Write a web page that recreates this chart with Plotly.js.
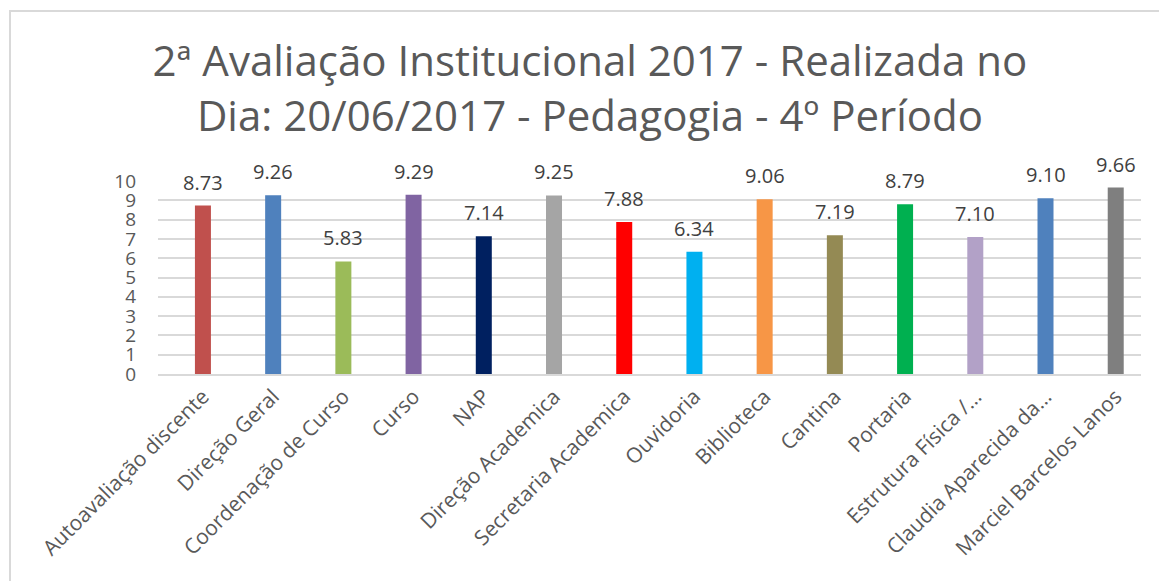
<!DOCTYPE html>
<html>
<head>
<meta charset="utf-8">
<script src="https://cdn.plot.ly/plotly-3.0.1.min.js"></script>
<style>
html,body{margin:0;padding:0;background:#fff;}
#wrap{position:relative;width:1159px;height:581px;overflow:hidden;}
#chart{width:1159px;height:581px;}
#frame{position:absolute;left:9px;top:10px;width:2000px;height:2000px;border-left:2px solid #d9d9d9;border-top:2px solid #d9d9d9;pointer-events:none;}
</style>
</head>
<body>
<div id="wrap">
<div id="chart"></div>
<div id="frame"></div>
</div>
<script>
const categories = [
  "Autoavaliação discente",
  "Direção Geral",
  "Coordenação de Curso",
  "Curso",
  "NAP",
  "Direção Academica",
  "Secretaria Academica",
  "Ouvidoria",
  "Biblioteca",
  "Cantina",
  "Portaria",
  "Estrutura Física /…",
  "Claudia Aparecida da…",
  "Marciel Barcelos Lanos"
];
const values = [8.73, 9.26, 5.83, 9.29, 7.14, 9.25, 7.88, 6.34, 9.06, 7.19, 8.79, 7.10, 9.10, 9.66];
const barColors = ["#C0504D", "#4F81BD", "#9BBB59", "#8064A2", "#002060", "#A5A5A5", "#FF0000",
  "#00B0F0", "#F79646", "#948A54", "#00B050", "#B2A1C7", "#4F81BD", "#7F7F7F"];
const yTicks = [0, 1, 2, 3, 4, 5, 6, 7, 8, 9, 10];
const titleText = "2ª Avaliação Institucional 2017 - Realizada no<br>Dia: 20/06/2017 - Pedagogia - 4º Período";

const FONT = "'Open Sans', 'Noto Sans', sans-serif";
const trace = {
  type: "bar",
  x: categories,
  y: values,
  marker: {color: barColors},
  width: 0.228,
  hoverinfo: "x+y"
};
const valueLabels = categories.map((c, i) => ({
  x: c,
  y: values[i],
  xref: "x",
  yref: "y",
  text: values[i].toFixed(2),
  showarrow: false,
  xanchor: "center",
  yanchor: "bottom",
  yshift: 8,
  font: {family: FONT, size: 20, color: "#404040"}
}));
const layout = {
  width: 1159,
  height: 581,
  margin: {l: 158, r: 18, t: 181, b: 207},
  paper_bgcolor: "#ffffff",
  plot_bgcolor: "#ffffff",
  showlegend: false,
  title: {
    text: titleText,
    font: {family: FONT, size: 42, color: "#595959"},
    x: 0.509, xref: "container", xanchor: "center",
    y: 0.869, yref: "container", yanchor: "middle"
  },
  annotations: valueLabels,
  xaxis: {
    type: "category",
    range: [-0.64, 13.36],
    tickangle: -45,
    tickfont: {family: FONT, size: 21, color: "#595959"},
    showgrid: false,
    showline: true,
    linecolor: "#d9d9d9",
    linewidth: 2,
    ticks: ""
  },
  yaxis: {
    range: [0, 10],
    tickvals: yTicks,
    ticktext: yTicks.map(String),
    tickfont: {family: FONT, size: 19, color: "#595959"},
    showgrid: true,
    gridcolor: "#d9d9d9",
    gridwidth: 2,
    zeroline: false,
    showline: false,
    ticks: "",
    ticklabelstandoff: 21
  },
  bargap: 0.77
};
Plotly.newPlot("chart", [trace], layout, {displayModeBar: false, staticPlot: true});
</script>
</body>
</html>
